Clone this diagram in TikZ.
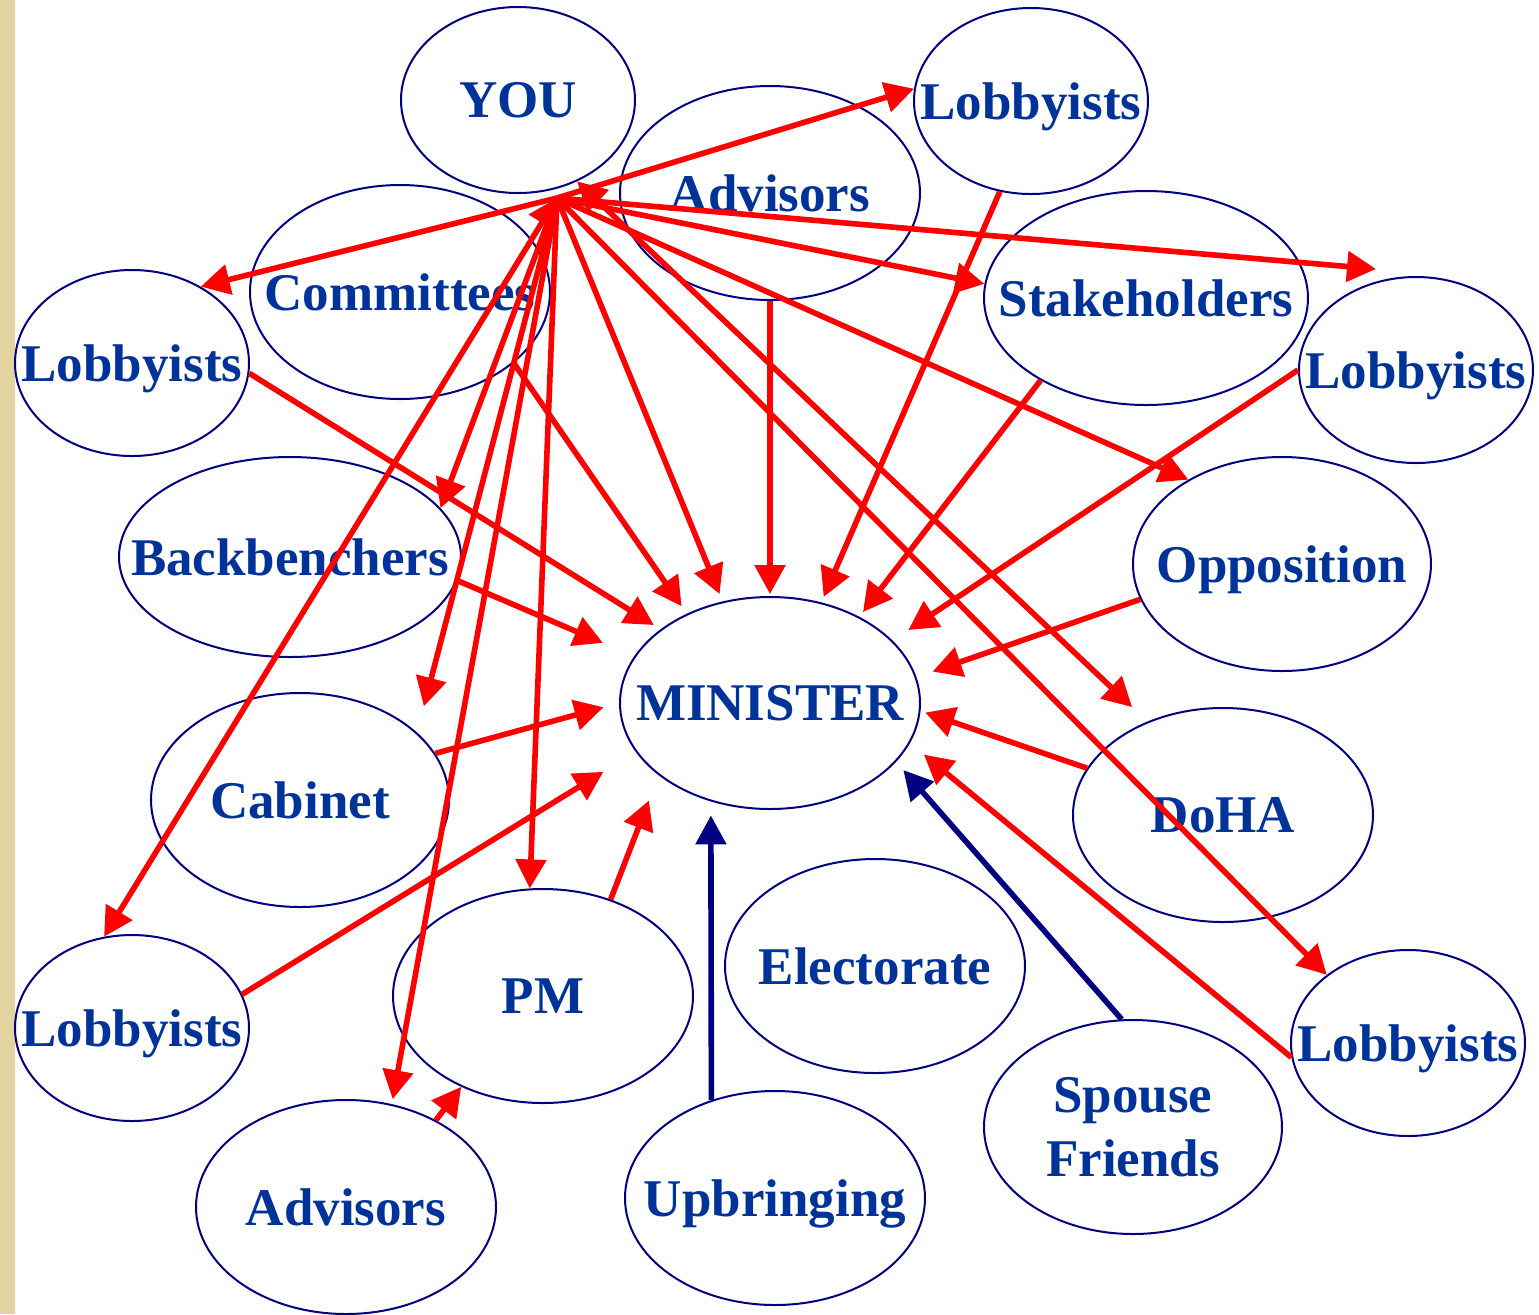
\documentclass[tikz,border=0pt]{standalone}
\usepackage{fontspec}
\setmainfont{Liberation Serif}
\usepackage{tikz}
\usetikzlibrary{arrows.meta,calc,shapes.geometric}
\definecolor{MinText}{HTML}{003399}
\definecolor{MinNavy}{HTML}{000080}
\definecolor{MinRed}{HTML}{FF0000}
\definecolor{MinSand}{HTML}{E3D3A1}
\newcommand{\bubtxt}[1]{\raisebox{0pt}[\height][0pt]{\makebox[0pt]{#1}}}
\tikzset{
  bubble/.style={ellipse, draw=MinNavy, line width=1pt, inner sep=0pt, minimum width=150pt, minimum height=107pt, font=\fontsize{26.5}{31.8}\selectfont\bfseries, text=MinText},
  lobby/.style={bubble, minimum width=117pt, minimum height=93pt},
  redarr/.style={-{Triangle[length=14.5pt,width=15pt]}, line width=2.8pt, draw=MinRed},
  navyarr/.style={redarr, draw=MinNavy},
  twoway/.style={{Triangle[length=14.5pt,width=15pt]}-{Triangle[length=14.5pt,width=15pt]}}
}

\begin{document}
\begin{tikzpicture}[x=0.5pt, y=-0.5pt]
\useasboundingbox (0,0) rectangle (1539,1314);
\fill[MinSand] (0,0) rectangle (15,1314);

% the bubbles
\node[lobby] (you) at (518,100) {\bubtxt{YOU}};
\node[lobby] (lobT) at (1031,101) {\bubtxt{Lobbyists}};
\node[bubble] (advT) at (770,193) {\bubtxt{Advisors}};
\node[bubble] (com) at (400,292) {\bubtxt{Committees}};
\node[lobby] (lobL) at (132,363) {\bubtxt{Lobbyists}};
\node[bubble, minimum width=162pt] (stk) at (1146,298) {\bubtxt{Stakeholders}};
\node[lobby] (lobR) at (1416,370) {\bubtxt{Lobbyists}};
\node[bubble, minimum width=171pt, minimum height=100pt] (bb) at (290,557) {\bubtxt{Backbenchers}};
\node[bubble, minimum width=149pt] (opp) at (1282,564) {\bubtxt{Opposition}};
\node[bubble, minimum height=106pt] (minister) at (770,703) {\bubtxt{MINISTER}};
\node[bubble, minimum width=149pt] (cab) at (300,800) {\bubtxt{Cabinet}};
\node[bubble] (doha) at (1223,815) {\bubtxt{DoHA}};
\node[lobby] (lobBL) at (132,1028) {\bubtxt{Lobbyists}};
\node[bubble] (pm) at (543,996) {\bubtxt{PM}};
\node[bubble] (elec) at (875,966) {\bubtxt{Electorate}};
\node[lobby] (lobBR) at (1408,1043) {\bubtxt{Lobbyists}};
\node[bubble, minimum width=149pt, align=center] (sp) at (1133,1127) {Spouse\\Friends};
\node[bubble] (advB) at (346,1207) {\bubtxt{Advisors}};
\node[bubble] (upb) at (775,1198) {\bubtxt{Upbringing}};

\coordinate (hub) at ($(you.south)+(39,4)$);
\coordinate (lobRtip) at ($(lobR.north)+(-40,-7)$);

% from YOU
\draw[redarr] (hub) -- (lobL.48);
\draw[redarr] (hub) -- (lobT.174);
\draw[redarr] (hub) -- (bb.18);
\draw[redarr, shorten >=13.5pt] (hub) -- (cab.30);
\draw[redarr, shorten >=2.5pt] (hub) -- (advB.66);
\draw[redarr, twoway] (hub) -- (lobBL.107);
\draw[redarr] (hub) -- (pm.97);
\draw[redarr, shorten >=4pt] (hub) -- (minister.115);
\draw[redarr] (hub) -- (opp.138);
\draw[redarr] (hub) -- (lobBR.140);
\draw[redarr] (hub) -- (stk.175);
\draw[redarr] (hub) -- (lobRtip);
\draw[redarr, twoway, shorten >=10.5pt] (you.-54) -- (doha.129);

% into the MINISTER
\draw[redarr, shorten >=4pt] (lobL.-5) -- (minister.146);
\draw[redarr, shorten >=4.5pt] (com.-32) -- (minister.133);
\draw[redarr, shorten >=1pt] (advT.south) -- (minister.north);
\draw[redarr, shorten >=3pt] (lobT.-109) -- (minister.63);
\draw[redarr, shorten >=3pt] (stk.-142) -- (minister.44);
\draw[redarr, shorten >=9.5pt] (lobR.west) -- (minister.27);
\draw[redarr, shorten >=17pt] (bb.-8) -- (minister.161);
\draw[redarr, shorten >=8pt] (cab.19) -- (minister.180);
\draw[redarr, shorten >=19pt] (lobBL.17) -- (minister.200);
\draw[redarr, shorten >=13.5pt] (pm.55) -- (minister.213);
\draw[redarr, shorten >=8.5pt] (opp.194) -- (minister.10);
\draw[redarr, shorten >=2.5pt] (doha.161) -- (minister.-3);
\draw[redarr, shorten >=9pt] (lobBR.187) -- (minister.-16);
\draw[navyarr, shorten >=7pt] (upb.123) -- (minister.239);
\draw[navyarr, shorten >=5.5pt] (sp.96) -- (minister.-25);
\draw[redarr] (advB.44) -- (pm.228);
\end{tikzpicture}
\end{document}
